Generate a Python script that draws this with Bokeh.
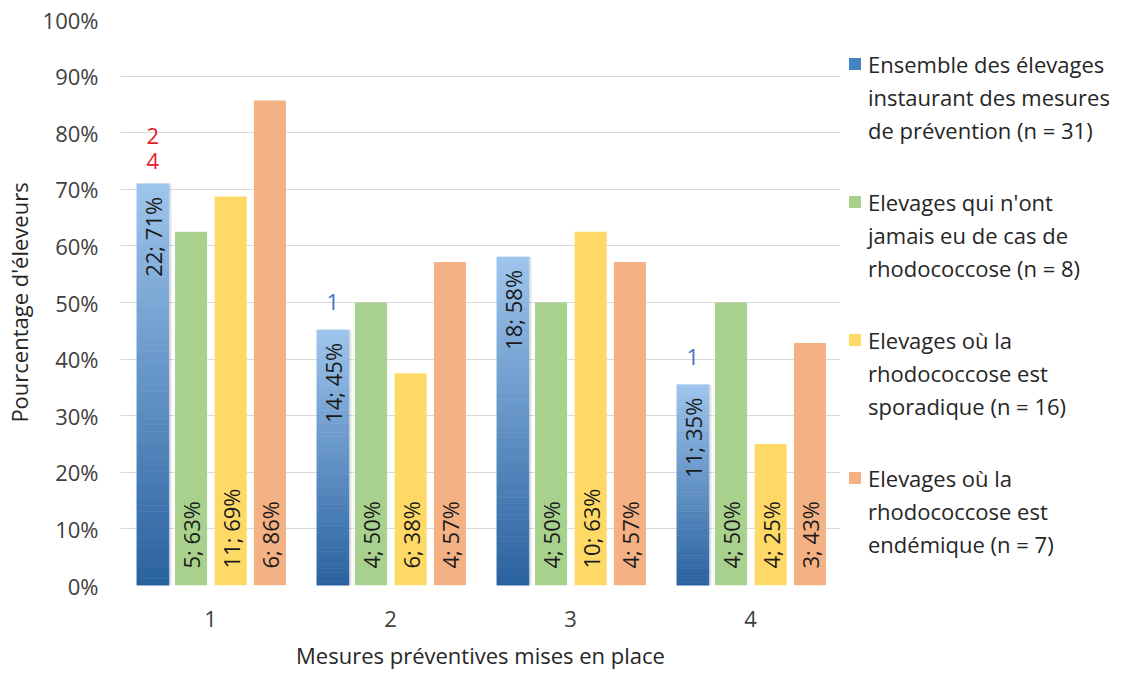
import math
from bokeh.plotting import figure
from bokeh.layouts import row
from bokeh.models import (ColumnDataSource, FactorRange, Range1d, FixedTicker,
                          PrintfTickFormatter, Legend, LegendItem)
from bokeh.transform import dodge
from bokeh.core.properties import value
from bokeh.embed import file_html
from bokeh.resources import INLINE

# ---------------- data ----------------
categories = ["1", "2", "3", "4"]
pct_ensemble = [70.97, 45.16, 58.06, 35.48]
pct_jamais = [62.5, 50.0, 50.0, 50.0]
pct_sporadique = [68.75, 37.5, 62.5, 25.0]
pct_endemique = [85.71, 57.14, 57.14, 42.86]
lab_ensemble = ["22; 71%", "14; 45%", "18; 58%", "11; 35%"]
lab_jamais = ["5; 63%", "4; 50%", "4; 50%", "4; 50%"]
lab_sporadique = ["11; 69%", "6; 38%", "10; 63%", "4; 25%"]
lab_endemique = ["6; 86%", "4; 57%", "4; 57%", "3; 43%"]
series_lines = [
    ["Ensemble des élevages", "instaurant des mesures", "de prévention (n = 31)"],
    ["Elevages qui n'ont", "jamais eu de cas de", "rhodococcose (n = 8)"],
    ["Elevages où la", "rhodococcose est", "sporadique (n = 16)"],
    ["Elevages où la", "rhodococcose est", "endémique (n = 7)"],
]
y_ticks = [0, 10, 20, 30, 40, 50, 60, 70, 80, 90, 100]
# small notes written above the blue bars
note_red_cat = ["1", "1"]
note_red_text = ["2", "4"]
note_blue_cat = ["2", "4"]
note_blue_text = ["1", "1"]

# ---------------- style ----------------
FONT = "Open Sans"
offsets = [-0.32, -0.108, 0.112, 0.33]
bar_w = 0.178
colors = ["#4482c4", "#a9d18e", "#ffd966", "#f4b183"]
top_rgb = (0x9d, 0xc4, 0xec)
bot_rgb = (0x2a, 0x62, 0xa0)

p = figure(width=840, height=675, x_range=FactorRange(*categories),
           y_range=Range1d(0, 100), output_backend="svg", toolbar_location=None,
           min_border_left=120, min_border_right=0, min_border_top=19,
           min_border_bottom=90)
p.outline_line_color = None
p.background_fill_color = "white"
p.border_fill_color = "white"

# grid
p.xgrid.grid_line_color = None
p.ygrid.grid_line_color = "#d9d9d9"
p.ygrid.grid_line_width = 1.2
p.yaxis.ticker = FixedTicker(ticks=y_ticks)
p.yaxis.formatter = PrintfTickFormatter(format="%d%%")

for ax in (p.xaxis, p.yaxis):
    ax.axis_line_color = None
    ax.major_tick_line_color = None
    ax.minor_tick_line_color = None
    ax.major_tick_out = 0
    ax.major_tick_in = 0
    ax.major_label_text_font = FONT
    ax.major_label_text_font_size = "22px"
    ax.major_label_text_color = "#404040"
    ax.axis_label_text_font = FONT
    ax.axis_label_text_font_size = "22px"
    ax.axis_label_text_font_style = "normal"
    ax.axis_label_text_color = "#262626"

p.yaxis.axis_label = "Pourcentage d'éleveurs"
p.yaxis.major_label_standoff = 22
p.yaxis.axis_label_standoff = 6
p.xaxis.axis_label = "Mesures préventives mises en place"
p.xaxis.major_label_standoff = 25
p.xaxis.axis_label_standoff = 10

# --- blue series with vertical gradient (slices of each bar) ---
N = 60
xs, bots, tops, cols = [], [], [], []
for c, v in zip(categories, pct_ensemble):
    for k in range(N):
        t = k / (N - 1)
        r = round(bot_rgb[0] + (top_rgb[0] - bot_rgb[0]) * t)
        g = round(bot_rgb[1] + (top_rgb[1] - bot_rgb[1]) * t)
        b = round(bot_rgb[2] + (top_rgb[2] - bot_rgb[2]) * t)
        xs.append(c)
        bots.append(v * k / N)
        tops.append(v * (k + 1) / N)
        cols.append("#%02x%02x%02x" % (r, g, b))
grad = ColumnDataSource(dict(x=xs, bottom=bots, top=tops, color=cols))

src = ColumnDataSource(dict(x=categories, s0=pct_ensemble, s1=pct_jamais,
                            s2=pct_sporadique, s3=pct_endemique,
                            l0=lab_ensemble, l1=lab_jamais, l2=lab_sporadique,
                            l3=lab_endemique))

# soft shadow behind blue bars
p.vbar(x=dodge("x", offsets[0] + 0.008, range=p.x_range), top="s0", width=bar_w + 0.012,
       source=src, fill_color="#7f7f7f", fill_alpha=0.22, line_color=None)
p.vbar(x=dodge("x", offsets[0], range=p.x_range), bottom="bottom", top="top",
       width=bar_w, source=grad, fill_color="color", line_color="color", line_width=0.6)

for i, key in enumerate(["s1", "s2", "s3"], start=1):
    p.vbar(x=dodge("x", offsets[i], range=p.x_range), top=key, width=bar_w,
           source=src, fill_color=colors[i], line_color=None)

# labels
p.text(x=dodge("x", offsets[0], range=p.x_range), y="s0", text="l0", source=src,
       angle=math.pi / 2, text_align="right", text_baseline="middle", y_offset=13,
       text_font=value(FONT), text_font_size="22px", text_color="#1a1a1a")
for i, key in enumerate(["l1", "l2", "l3"], start=1):
    p.text(x=dodge("x", offsets[i], range=p.x_range), y=0, text=key, source=src,
           angle=math.pi / 2, text_align="left", text_baseline="middle", y_offset=-17,
           text_font=value(FONT), text_font_size="22px", text_color="#1a1a1a")

# notes above blue bars
val_of = dict(zip(categories, pct_ensemble))
red_src = ColumnDataSource(dict(x=note_red_cat, y=[val_of[c] for c in note_red_cat],
                                text=note_red_text, off=[-48, -23]))
p.text(x=dodge("x", offsets[0], range=p.x_range), y="y", text="text", y_offset="off",
       source=red_src, text_align="center", text_baseline="middle",
       text_font=value(FONT), text_font_size="22px", text_color="#e8202a")
blue_src = ColumnDataSource(dict(x=note_blue_cat, y=[val_of[c] for c in note_blue_cat],
                                 text=note_blue_text))
p.text(x=dodge("x", offsets[0], range=p.x_range), y="y", text="text", y_offset=-28,
       source=blue_src, text_align="center", text_baseline="middle",
       text_font=value(FONT), text_font_size="22px", text_color="#4472c4")

# ---------------- legend panel ----------------
q = figure(width=289, height=675, x_range=Range1d(0, 1), y_range=Range1d(0, 1),
           x_axis_type=None, y_axis_type=None, output_backend="svg",
           toolbar_location=None, min_border=0)
q.grid.visible = False
q.outline_line_color = None
q.border_fill_color = "white"
# zero-height proxies that only supply the legend swatches
leg_r = [q.vbar(x=[0.5], top=[0], width=0.1, fill_color=c, line_color=None) for c in colors]
blank = q.vbar(x=[0.5], top=[0], width=0.1, fill_alpha=0, line_alpha=0)

LINE_H = 33
block_bottoms = [439, 301, 163, 25]
for lines, r, yb in zip(series_lines, leg_r, block_bottoms):
    items = [LegendItem(label=value(lines[0]), renderers=[r])]
    items += [LegendItem(label=value(t), renderers=[blank]) for t in lines[1:]]
    lg = Legend(items=items, location=(7, yb), orientation="vertical")
    lg.label_text_font = FONT
    lg.label_text_font_size = "22px"
    lg.label_text_color = "#262626"
    lg.label_height = LINE_H
    lg.label_text_baseline = "middle"
    lg.glyph_width = 15
    lg.glyph_height = 15
    lg.label_standoff = 6
    lg.spacing = 0
    lg.padding = 0
    lg.margin = 0
    lg.border_line_color = None
    lg.background_fill_alpha = 0
    q.add_layout(lg, "center")

layout = row(p, q)
open("out.html", "w").write(file_html(layout, INLINE))
